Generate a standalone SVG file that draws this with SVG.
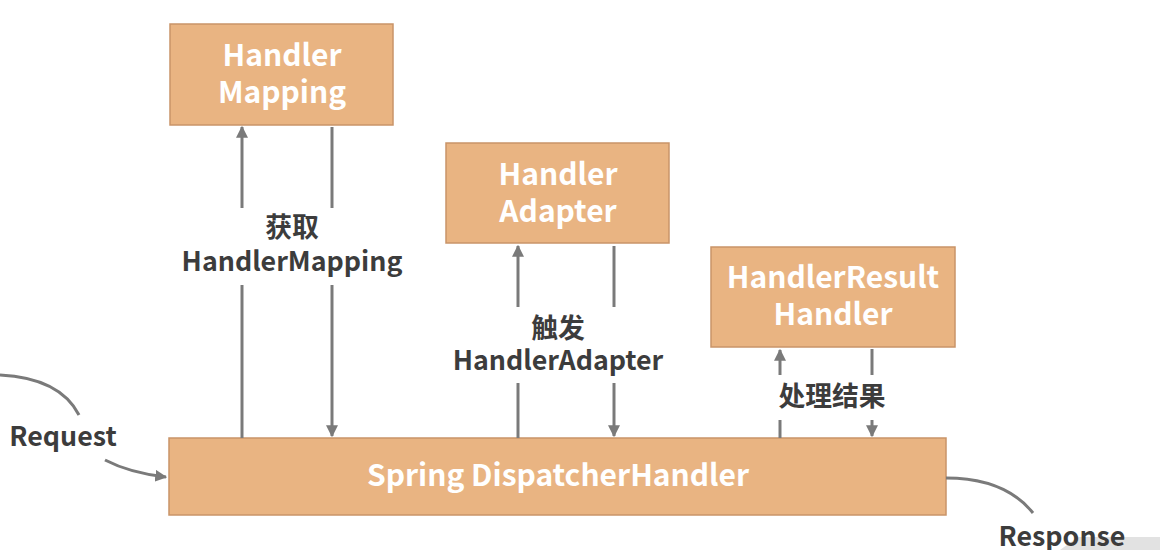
<svg xmlns="http://www.w3.org/2000/svg" width="1160" height="550" viewBox="0 0 1160 550">
<defs>
<marker id="ah" viewBox="0 0 10 10" refX="9" refY="5" markerWidth="4" markerHeight="4" orient="auto-start-reverse">
<path d="M0,0 L10,5 L0,10 z" fill="#7a7a7a"/>
</marker>
<style>
.box{fill:#e9b482;stroke:#c99468;stroke-width:1.5}
.bt{font-family:"Noto Sans CJK SC","Noto Sans",sans-serif;font-weight:bold;font-size:30px;fill:#ffffff;text-anchor:middle}
.lb{font-family:"Noto Sans CJK SC","Noto Sans",sans-serif;font-weight:bold;font-size:26.8px;fill:#3c3c3c;text-anchor:middle}
.ln{stroke:#7a7a7a;stroke-width:3;fill:none}
</style>
</defs>
<rect width="1160" height="550" fill="#ffffff"/>
<g id="handlerMapping">
<rect class="box" x="170" y="24" width="223" height="101"/>
<text class="bt" x="282" y="66">Handler</text>
<text class="bt" x="282" y="103">Mapping</text>
</g>
<g id="handlerAdapter">
<rect class="box" x="446" y="143" width="223" height="100"/>
<text class="bt" x="558" y="185">Handler</text>
<text class="bt" x="558" y="222">Adapter</text>
</g>
<g id="handlerResultHandler">
<rect class="box" x="711" y="247" width="244" height="100"/>
<text class="bt" x="833" y="288">HandlerResult</text>
<text class="bt" x="833" y="325">Handler</text>
</g>
<g id="dispatcher">
<rect class="box" x="169" y="438" width="777" height="77"/>
<text class="bt" x="558" y="486">Spring DispatcherHandler</text>
</g>
<polygon points="1060,550 1078,537 1160,537 1160,550" fill="#e2e2e2"/>
<g id="connectors">
<line class="ln" x1="242" y1="208" x2="242" y2="127" marker-end="url(#ah)"/>
<line class="ln" x1="242" y1="438" x2="242" y2="285"/>
<line class="ln" x1="332" y1="127" x2="332" y2="208"/>
<line class="ln" x1="332" y1="285" x2="332" y2="436" marker-end="url(#ah)"/>
<line class="ln" x1="518" y1="307" x2="518" y2="246" marker-end="url(#ah)"/>
<line class="ln" x1="518" y1="438" x2="518" y2="383"/>
<line class="ln" x1="614" y1="246" x2="614" y2="307"/>
<line class="ln" x1="614" y1="383" x2="614" y2="436" marker-end="url(#ah)"/>
<line class="ln" x1="780" y1="375" x2="780" y2="350" marker-end="url(#ah)"/>
<line class="ln" x1="780" y1="438" x2="780" y2="420"/>
<line class="ln" x1="872" y1="349" x2="872" y2="375"/>
<line class="ln" x1="872" y1="420" x2="872" y2="436" marker-end="url(#ah)"/>
<path class="ln" d="M0,375 Q60,378 79,415"/>
<path class="ln" d="M105,460 Q130,473 166,477" marker-end="url(#ah)"/>
<path class="ln" d="M946,478 Q1005,478 1033,513"/>
<text class="lb" x="292" y="237">获取</text>
<text class="lb" x="292" y="271">HandlerMapping</text>
<text class="lb" x="558" y="338">触发</text>
<text class="lb" x="558" y="370">HandlerAdapter</text>
<text class="lb" x="832" y="406">处理结果</text>
<text class="lb" x="63" y="446">Request</text>
<text class="lb" x="1062" y="546">Response</text>
</g>
</svg>
